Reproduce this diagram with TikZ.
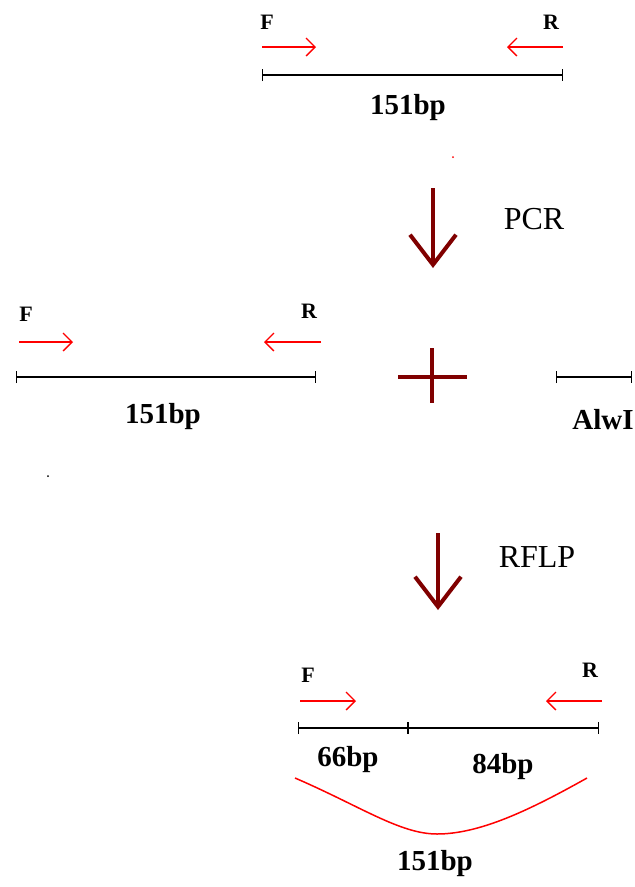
\documentclass[tikz,border=0pt]{standalone}
\usepackage{fontspec}
\setmainfont{Liberation Serif}
\usetikzlibrary{arrows.meta}
\definecolor{darkred}{RGB}{128,0,0}
\tikzset{
  primer/.style={red,line width=1.5pt,-{Straight Barb[length=9pt,width=18pt,line width=1.3pt]}},
  segment/.style={line width=1.6pt,{Bar[width=12pt,line width=1.4pt]}-{Bar[width=12pt,line width=1.4pt]}},
  step arrow/.style={darkred,line width=4pt,-{Straight Barb[length=30pt,width=46pt,line width=4pt]}},
  lab/.style={font=\fontsize{22}{24}\selectfont\bfseries,inner sep=0pt},
  len/.style={font=\fontsize{29}{31}\selectfont\bfseries,inner sep=0pt},
  txt/.style={font=\fontsize{32}{34}\selectfont,inner sep=0pt}
}
\begin{document}
\begin{tikzpicture}[x=1pt,y=-1pt]
\useasboundingbox (0,0) rectangle (635,887);

% amplicon before PCR
\begin{scope}
\coordinate (a) at (262,75);
\coordinate (b) at (563,75);
\draw[segment] (a) -- (b);
\draw[primer] (262,47) -- (316,47);
\draw[primer] (563,47) -- (507,47);
\node[lab] (f1) at (267,22) {F};
\node[lab] (r1) at (551,22) {R};
\node[len] (l1) at (408,108) {151bp};
\fill[red] (453,157) circle (1pt);
\end{scope}

% PCR step
\coordinate (p1) at (433,188);
\coordinate (p2) at (433,268);
\draw[step arrow] (p1) -- (p2);
\node[txt] (pcr) at (534,219) {PCR};

% product + enzyme
\begin{scope}
\coordinate (a) at (16,377);
\coordinate (b) at (316,377);
\draw[segment] (a) -- (b);
\draw[primer] (19,342) -- (73,342);
\draw[primer] (321,342) -- (264,342);
\node[lab] (f2) at (26,314) {F};
\node[lab] (r2) at (309,311) {R};
\node[len] (l2) at (163,417) {151bp};
\fill (48,476) circle (1pt);

\draw[darkred,line width=3.5pt] (398,377) -- (467,377);
\draw[darkred,line width=3.5pt] (432,348) -- (432,403);

\coordinate (e1) at (556,377);
\coordinate (e2) at (632,377);
\draw[segment] (e1) -- (e2);
\node[len] (enz) at (603,420) {AlwI};
\end{scope}

% RFLP step
\coordinate (q1) at (438,533);
\coordinate (q2) at (438,610);
\draw[step arrow] (q1) -- (q2);
\node[txt] (rflp) at (537,557) {RFLP};

% digested fragments
\begin{scope}
\coordinate (a) at (298,728);
\coordinate (c) at (408,728);
\coordinate (b) at (599,728);
\draw[segment] (a) -- (c);
\draw[segment] (c) -- (b);
\draw[primer] (300,701) -- (356,701);
\draw[primer] (602,701) -- (546,701);
\node[lab] (f3) at (308,675) {F};
\node[lab] (r3) at (590,670) {R};
\node[len] (l3) at (348,760) {66bp};
\node[len] (l4) at (503,767) {84bp};
\coordinate (u1) at (295,778);
\coordinate (u2) at (437,834);
\coordinate (u3) at (587,778);
\draw[red,line width=1.5pt] (u1) .. controls (360,806) and (400,834) .. (u2)
  .. controls (480,834) and (530,810) .. (u3);
\node[len] (l5) at (435,864) {151bp};
\end{scope}

\end{tikzpicture}
\end{document}
